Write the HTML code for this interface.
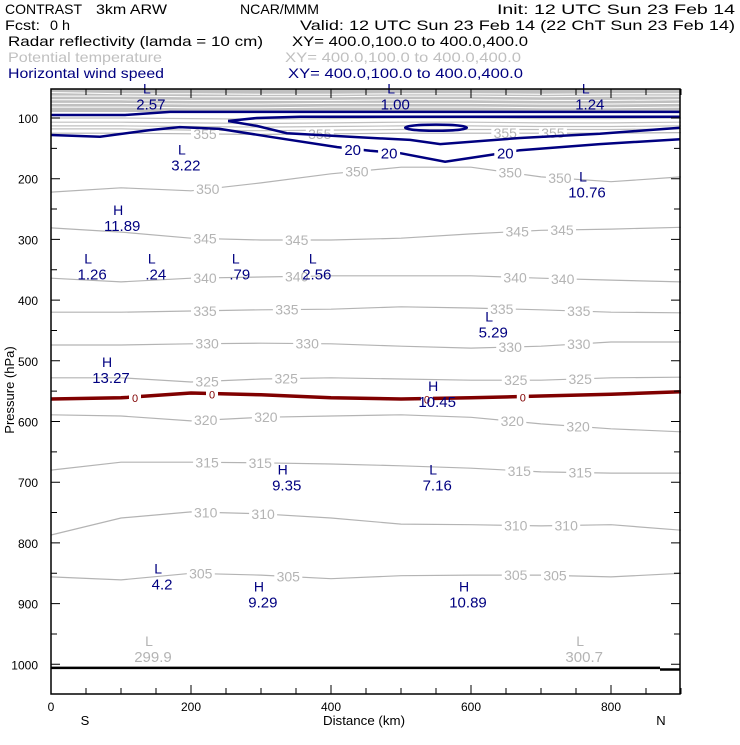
<!DOCTYPE html>
<html><head><meta charset="utf-8"><style>
body{margin:0;background:#fff;}
svg text{font-family:"Liberation Sans",sans-serif;}
</style></head><body>
<svg id="chart" width="740" height="740" viewBox="0 0 740 740" xmlns="http://www.w3.org/2000/svg">
<g font-size="14">
<text x="5" y="14" fill="#000" textLength="77" lengthAdjust="spacingAndGlyphs">CONTRAST</text>
<text x="96" y="14" fill="#000" textLength="71" lengthAdjust="spacingAndGlyphs">3km ARW</text>
<text x="240" y="14" fill="#000" textLength="79" lengthAdjust="spacingAndGlyphs">NCAR/MMM</text>
<text x="497" y="14" fill="#000" textLength="238" lengthAdjust="spacingAndGlyphs">Init: 12 UTC Sun 23 Feb 14</text>
<text x="5" y="30" fill="#000" textLength="35" lengthAdjust="spacingAndGlyphs">Fcst:</text>
<text x="50" y="30" fill="#000" textLength="20" lengthAdjust="spacingAndGlyphs">0 h</text>
<text x="300" y="30" fill="#000" textLength="435" lengthAdjust="spacingAndGlyphs">Valid: 12 UTC Sun 23 Feb 14 (22 ChT Sun 23 Feb 14)</text>
<text x="8" y="46" fill="#000" textLength="255" lengthAdjust="spacingAndGlyphs">Radar reflectivity (lamda = 10 cm)</text>
<text x="292" y="46" fill="#000" textLength="236" lengthAdjust="spacingAndGlyphs">XY= 400.0,100.0 to 400.0,400.0</text>
<text x="8" y="62" fill="#c0c0c0" textLength="154" lengthAdjust="spacingAndGlyphs">Potential temperature</text>
<text x="285" y="62" fill="#c0c0c0" textLength="236" lengthAdjust="spacingAndGlyphs">XY= 400.0,100.0 to 400.0,400.0</text>
<text x="8" y="78" fill="#000080" textLength="156" lengthAdjust="spacingAndGlyphs">Horizontal wind speed</text>
<text x="288" y="78" fill="#000080" textLength="235" lengthAdjust="spacingAndGlyphs">XY= 400.0,100.0 to 400.0,400.0</text>
</g>
<g id="plot"></g>
<text x="323" y="725" font-size="13" textLength="82" lengthAdjust="spacingAndGlyphs">Distance (km)</text>
<text x="85" y="725" text-anchor="middle" font-size="13">S</text>
<text x="661" y="725" text-anchor="middle" font-size="13">N</text>
<text x="0" y="0" transform="translate(14,390) rotate(-90)" text-anchor="middle" font-size="13">Pressure (hPa)</text>
</svg>
<script>
// ---- data ----
const xKm = [0,100,200,300,400,500,600,700,800,900];
const xTicks = [0,200,400,600,800];
const yTicks = [100,200,300,400,500,600,700,800,900,1000];
const thetaLevels = [350,345,340,335,330,325,320,315,310,305];
const theta350 = [222,215,220,207,192,181,181,197,205,197];
const theta345 = [281,288,298,301,301,298,291,285,283,280];
const theta340 = [364,370,364,362,360,360,360,364,367,370];
const theta335 = [420,420,418,416,415,411,413,416,420,421];
const theta330 = [474,474,472,471,472,476,479,476,469,469];
const theta325 = [528,528,535,530,528,530,532,532,528,527];
const theta320 = [589,591,599,593,591,589,593,604,612,617];
const theta315 = [680,667,667,668,670,673,677,683,685,685];
const theta310 = [787,759,749,752,759,769,770,772,770,779];
const theta305 = [856,861,850,853,859,854,853,853,856,850];
const theta355 = [125,125,126,127,126,125,125,125,125,124];
const thetaUpper = [[58,60,60,61,61,60,60,61,60,60],[64,64,65,65,65,64,64,65,64,64],[70,70,71,71,71,70,70,71,71,70],[76,76,77,77,76,76,76,77,77,76],[82,82,83,83,82,82,82,83,83,82],[100,100,101,102,101,100,100,101,101,100],[107,107,108,109,108,107,107,108,108,107],[113,113,114,115,114,113,113,114,114,113],[118,118,120,121,120,119,119,119,119,118]];
const freezeLine = [563,561,553,556,561,563,561,558,555,551];
const sfcLine = [1006,1006,1006,1006,1006,1006,1006,1006,1006,1006];
const windAkm = [0,106,170,899], windAp = [95,95,90,90];
const windBkm = [253,294,356,899], windBp = [105,100,98,98];
const windUkm = [253,294,337,427,513,556,670,784,899], windUp = [105,113,125,131,136,143,133,126,116];
const windLkm = [0,70,141,184,241,313,409,456,499,563,627,670,784,899], windLp = [128,131,120,115,118,131,148,154,158,172,161,153,143,135];
const windEllipse = {km:550, p:116, dkm:44, dp:5};
const extType = ['L','L','L','L','L','H','L','L','L','L','L','H','H','H','L','L','H','H'];
const extKm  = [137,486,764,187,760,96,53,144,264,374,626,80,546,331,546,153,297,590];
const extP   = [60,60,60,160,205,260,340,340,340,340,435,510,550,687,687,850,880,880];
const extVal = ['2.57','1.00','1.24','3.22','10.76','11.89','1.26','.24','.79','2.56','5.29','13.27','10.45','9.35','7.16','4.2','9.29','10.89'];
const sfcType = ['L','L'], sfcKm=[140,756], sfcP=[970,970], sfcVal=['299.9','300.7'];
const thetaLabelKm = [
 [224,437,656,727],[220,351,666,730],[220,351,663,731],[220,337,644,754],[223,366,656,754],
 [223,336,664,756],[221,307,659,753],[223,299,669,756],[221,303,664,736],[214,339,664,720]];
const theta355LabelKm = [220,384,649,717];
const freezeLabelKm = [120,230,537,674];

// ---- scales ----
const X0=51,X1=680,Y0=89,Y1=694;
const x = km => X0 + km*0.7;
const y = p => 118 + (p-100)*0.607;
const NS='http://www.w3.org/2000/svg';
const plot=document.getElementById('plot');
function mk(tag, attrs, parent){const e=document.createElementNS(NS,tag);for(const k in attrs)e.setAttribute(k,attrs[k]);(parent||plot).appendChild(e);return e;}
function path(kms, ps){return kms.map((k,i)=>(i?'L':'M')+x(k).toFixed(1)+','+y(ps[i]).toFixed(1)).join(' ');}
function interp(arr, km){const i=Math.min(8,Math.floor(km/100));const t=(km-xKm[i])/100;return arr[i]*(1-t)+arr[i+1]*t;}
function interp2(ks,ps,k){for(let i=0;i<ks.length-1;i++){if(k>=ks[i]&&k<=ks[i+1]){const t=(k-ks[i])/(ks[i+1]-ks[i]);return ps[i]*(1-t)+ps[i+1]*t;}}return ps[ps.length-1];}

const band=mk('rect',{x:X0,y:Y0,width:X1-X0,height:23,fill:'#c0c0c0'});


thetaUpper.forEach((arr,i)=>{
  const l=mk('path',{d:path(xKm,arr),fill:'none',stroke:i<5?'#ffffff':'#c0c0c0','stroke-width':i<5?1:1.2});
  
  
});
const thetaSeries=[theta350,theta345,theta340,theta335,theta330,theta325,theta320,theta315,theta310,theta305];
function contour(arr, labelKms, text, color, width, name, fs){
  const l=mk('path',{d:path(xKm,arr),fill:'none',stroke:color,'stroke-width':width});
  
  
  labelKms.forEach(k=>{
    const py=y(interp(arr,k));
    const w=text.length*8+4;
    const r=mk('rect',{x:x(k)-w/2,y:py-6,width:w,height:12,fill:'#fff'});
    
    
    const t=mk('text',{x:x(k),y:py+5,'text-anchor':'middle','font-size':fs,fill:color});
    
    
    t.textContent=text;
  });
}
thetaSeries.forEach((arr,i)=>contour(arr,thetaLabelKm[i],String(thetaLevels[i]),'#b4b4b4',1.2,'theta-'+thetaLevels[i],14));
contour(theta355,theta355LabelKm,'355','#b4b4b4',1.2,'theta-355',14);
contour(freezeLine,freezeLabelKm,'0','#800000',3.5,'freezing-line',11);
const sfc=mk('path',{d:path([0,870],[sfcLine[0],sfcLine[9]])+' M'+x(870)+','+(y(1006)+1.5)+' L'+X1+','+(y(1006)+1.5),fill:'none',stroke:'#000','stroke-width':2.5});


[[windAkm,windAp,'wind-line-a'],[windBkm,windBp,'wind-line-b'],[windUkm,windUp,'wind-20-upper'],[windLkm,windLp,'wind-20-lower']].forEach(s=>{
  const l=mk('path',{d:path(s[0],s[1]),fill:'none',stroke:'#000080','stroke-width':2.5});
  
  
});
const el=mk('ellipse',{cx:x(windEllipse.km),cy:y(windEllipse.p),rx:windEllipse.dkm*0.7,ry:windEllipse.dp*0.607,fill:'none',stroke:'#000080','stroke-width':2.5});


[431,483,649].forEach(k=>{
  const py=y(interp2(windLkm,windLp,k));
  const r=mk('rect',{x:x(k)-11,y:py-7,width:22,height:14,fill:'#fff'});
  
  
  const t=mk('text',{x:x(k),y:py+6,'text-anchor':'middle','font-size':15,fill:'#000080'});
  
  
  t.textContent='20';
});
function extremum(type,km,p,val,color,name){
  const g=mk('g',{});
  
  
  const t1=mk('text',{x:x(km),y:y(p),'text-anchor':'middle','font-size':14,fill:color},g);
  t1.textContent=type;
  const t2=mk('text',{x:x(km)+4,y:y(p)+16,'text-anchor':'middle','font-size':15,fill:color},g);
  t2.textContent=val;
}
extType.forEach((t,i)=>extremum(t,extKm[i],extP[i],extVal[i],'#000080','wind-extremum-'+extVal[i]));
sfcType.forEach((t,i)=>extremum(t,sfcKm[i],sfcP[i],sfcVal[i],'#b4b4b4','theta-extremum-'+sfcVal[i]));
const fr=mk('rect',{x:X0,y:Y0,width:X1-X0,height:Y1-Y0,fill:'none',stroke:'#000','stroke-width':1.5});


for(let k=0;k<=900;k+=50){
  const major=xTicks.includes(k);const L=major?9:6;
  const t=mk('path',{d:`M${x(k)},${Y1} v${-L} M${x(k)},${Y0} v${L}`,stroke:'#000','stroke-width':1});
  
  
}
xTicks.forEach(k=>{
  const t=mk('text',{x:x(k),y:711,'text-anchor':'middle','font-size':12});
  
  
  t.textContent=k;
});
for(let p=100;p<=1000;p+=50){
  const major=yTicks.includes(p);const L=major?9:6;
  const t=mk('path',{d:`M${X0},${y(p)} h${L} M${X1},${y(p)} h${-L}`,stroke:'#000','stroke-width':1});
  
  
}
yTicks.forEach(p=>{
  const t=mk('text',{x:38,y:y(p)+5,'text-anchor':'end','font-size':12});
  
  
  t.textContent=p;
});
</script>
</body></html>
